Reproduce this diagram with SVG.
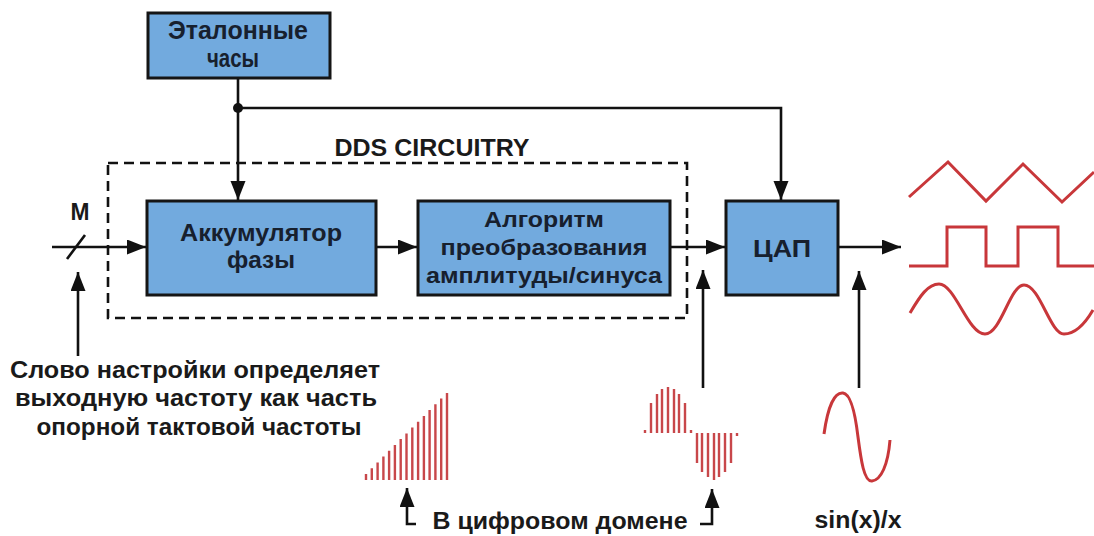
<svg xmlns="http://www.w3.org/2000/svg" width="1094" height="536" viewBox="0 0 1094 536">
<defs>
<marker id="ah" markerUnits="userSpaceOnUse" markerWidth="20" markerHeight="16" refX="19" refY="7.5" orient="auto">
<path d="M0,0 L19,7.5 L0,15 z" fill="#111"/>
</marker>
<style>
.box{fill:#72aade;stroke:#151515;stroke-width:3}
.bt{font-family:"Liberation Sans",Arial,sans-serif;font-weight:bold;fill:#17202e;text-anchor:middle}
.lt{font-family:"Liberation Sans",Arial,sans-serif;font-weight:bold;fill:#1a1a1a;text-anchor:middle}
.ln{fill:none;stroke:#111;stroke-width:2.6}
.ar{fill:none;stroke:#111;stroke-width:2.6;marker-end:url(#ah)}
.wv{fill:none;stroke:#c8373a;stroke-width:3}
.bar{stroke:#c8474a;stroke-width:2.4}
</style>
</defs>
<rect width="1094" height="536" fill="#fff"/>

<g id="dds-boundary">
<rect x="108" y="163" width="579" height="155" fill="none" stroke="#111" stroke-width="2.6" stroke-dasharray="10,6"/>
<text class="lt" x="432" y="156" font-size="23" textLength="195" lengthAdjust="spacingAndGlyphs">DDS CIRCUITRY</text>
</g>

<g id="connectors">
<path class="ar" d="M238,78 V200"/>
<circle cx="238" cy="108" r="5" fill="#111"/>
<path class="ar" d="M238,108 H781 V200"/>
<path class="ar" d="M52,247 H146"/>
<path class="ln" d="M67,259 L85,235"/>
<path class="ar" d="M78,356 V272"/>
<path class="ar" d="M375,247 H417"/>
<path class="ar" d="M670,247 H725"/>
<path class="ar" d="M838,247 H901"/>
<path class="ar" d="M703,388 V270"/>
<path class="ar" d="M859,388 V271"/>
<path class="ar" d="M416,524 H407 V488"/>
<path class="ar" d="M700,524 H712 V489"/>
</g>

<g id="clock">
<rect class="box" x="148" y="13" width="182" height="65"/>
<text class="bt" x="238" y="39" font-size="25" textLength="140" lengthAdjust="spacingAndGlyphs">Эталонные</text>
<text class="bt" x="233" y="67" font-size="25" textLength="52" lengthAdjust="spacingAndGlyphs">часы</text>
</g>

<g id="accumulator">
<rect class="box" x="147" y="201" width="229" height="94"/>
<text class="bt" x="261" y="241" font-size="24" textLength="162" lengthAdjust="spacingAndGlyphs">Аккумулятор</text>
<text class="bt" x="261" y="268" font-size="24" textLength="68" lengthAdjust="spacingAndGlyphs">фазы</text>
</g>

<g id="converter">
<rect class="box" x="418" y="201" width="252" height="94"/>
<text class="bt" x="544" y="227" font-size="22" textLength="120" lengthAdjust="spacingAndGlyphs">Алгоритм</text>
<text class="bt" x="544" y="255" font-size="22" textLength="207" lengthAdjust="spacingAndGlyphs">преобразования</text>
<text class="bt" x="544" y="283" font-size="22" textLength="236" lengthAdjust="spacingAndGlyphs">амплитуды/синуса</text>
</g>

<g id="dac">
<rect class="box" x="726" y="201" width="112" height="94"/>
<text class="bt" x="782" y="257" font-size="24" textLength="58" lengthAdjust="spacingAndGlyphs">ЦАП</text>
</g>

<g id="labels">
<text class="lt" x="80" y="220" font-size="23" textLength="19" lengthAdjust="spacingAndGlyphs">M</text>
<text class="lt" x="195" y="378" font-size="24" textLength="370" lengthAdjust="spacingAndGlyphs">Слово настройки определяет</text>
<text class="lt" x="196" y="406" font-size="24" textLength="362" lengthAdjust="spacingAndGlyphs">выходную частоту как часть</text>
<text class="lt" x="199" y="435" font-size="24" textLength="325" lengthAdjust="spacingAndGlyphs">опорной тактовой частоты</text>
<text class="lt" x="560" y="529" font-size="24" textLength="255" lengthAdjust="spacingAndGlyphs">В цифровом домене</text>
<text class="lt" x="858" y="528" font-size="23" textLength="87" lengthAdjust="spacingAndGlyphs">sin(x)/x</text>
</g>

<g id="ramp">
<path class="bar" d="M366,480 V474 M371.8,480 V468.2 M377.6,480 V462.4 M383.4,480 V456.6 M389.1,480 V450.7 M394.9,480 V444.9 M400.7,480 V439.1 M406.5,480 V433.4 M412.3,480 V427.6 M418.1,480 V421.7 M423.9,480 V415.9 M429.6,480 V410.1 M435.4,480 V404.3 M441.2,480 V398.6 M447,480 V393"/>
</g>

<g id="sampled-sine">
<path class="bar" d="M645,433 V430 M691,433 V430 M737,433 V436 M651,433 V403 M657,433 V394 M662,433 V389 M668,433 V387 M674,433 V389 M679,433 V394 M685,433 V403 M697,433 V463 M702,433 V472 M708,433 V477 M714,433 V480 M719,433 V477 M725,433 V472 M731,433 V463"/>
</g>

<g id="sinc">
<path class="wv" d="M824,434 C828,405 835,392 843,393 C852,394 856,420 858,437 C861,460 864,482 872,481 C881,480 888,465 890,440"/>
</g>

<g id="outputs">
<path class="wv" d="M909,197 L948,162 L986,201 L1023,164 L1062,202 L1094,172"/>
<path class="wv" d="M909,266 H947 V227 H986 V266 H1018 V227 H1058 V266 H1094"/>
<path class="wv" d="M910,313 C920,296 928,284 939,284 C955,284 968,334 985,334 C1001,334 1010,285 1024,285 C1040,285 1050,334 1064,334 C1076,334 1086,322 1093,310"/>
</g>
</svg>
